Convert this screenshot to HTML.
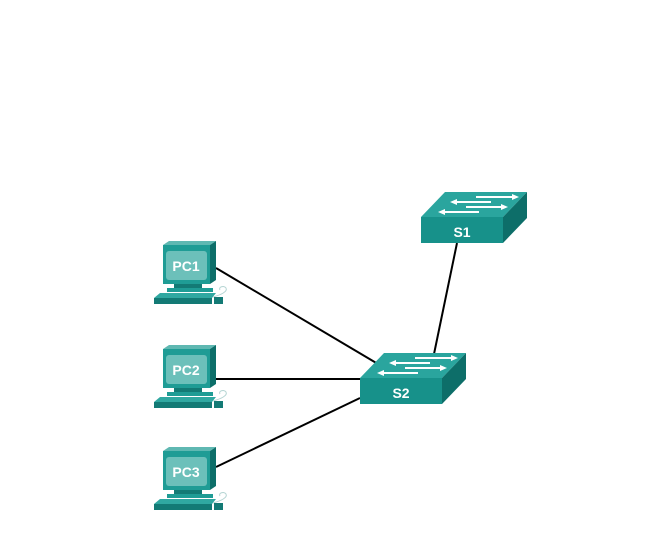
<!DOCTYPE html>
<html><head><style>
html,body{margin:0;padding:0;background:#fff;width:653px;height:556px;overflow:hidden}
text{font-family:"Liberation Sans",sans-serif;font-weight:bold;fill:#fff}
</style></head><body>
<svg width="653" height="556" viewBox="0 0 653 556" xmlns="http://www.w3.org/2000/svg">
<defs>
<g id="pc">
  <polygon points="13,5 19,1 66,1 60,5" fill="#5fb8b2"/>
  <rect x="13" y="5" width="47" height="39" fill="#1f9c95"/>
  <polygon points="60,5 66,1 66,40 60,44" fill="#0d6e69"/>
  <rect x="16" y="11" width="41" height="29" rx="3" fill="#6cc0ba"/>
  <rect x="24" y="44" width="28" height="4" fill="#137a75"/>
  <rect x="17" y="48" width="46" height="4" fill="#1f9c95"/>
  <polygon points="10,53 66,53 62,58 4,58" fill="#30a8a1"/>
  <rect x="4" y="58" width="58" height="6" fill="#137a75"/>
  <path d="M63,57 C70,55 78,52 76,48 C74,45 68,47 70,50" stroke="#b5d5d3" stroke-width="1" fill="none"/>
  <rect x="64" y="57" width="9" height="7" fill="#137a75"/>
</g>
<g id="sw">
  <polygon points="0,25 24,0 106,0 82,25" fill="#2aa59e"/>
  <rect x="0" y="25" width="82" height="26" fill="#17918a"/>
  <polygon points="82,25 106,0 106,26 82,51" fill="#0d6e69"/>
  <g stroke="#fff" stroke-width="2" fill="#fff">
    <line x1="55" y1="5" x2="92" y2="5"/><polygon points="98,5 91,2 91,8" stroke="none"/>
    <line x1="36" y1="10" x2="70" y2="10"/><polygon points="29,10 36,7 36,13" stroke="none"/>
    <line x1="45" y1="15" x2="80" y2="15"/><polygon points="87,15 80,12 80,18" stroke="none"/>
    <line x1="24" y1="20" x2="58" y2="20"/><polygon points="17,20 24,17 24,23" stroke="none"/>
  </g>
</g>
</defs>
<g stroke="#000" stroke-width="2">
  <line x1="216" y1="268" x2="378" y2="364"/>
  <line x1="216" y1="379" x2="360" y2="379"/>
  <line x1="216" y1="467" x2="360" y2="398"/>
  <line x1="457" y1="243" x2="434" y2="354"/>
</g>
<use href="#pc" x="150" y="240"/>
<use href="#pc" x="150" y="344"/>
<use href="#pc" x="150" y="446"/>
<text x="186" y="271" font-size="14" text-anchor="middle">PC1</text>
<text x="186" y="375" font-size="14" text-anchor="middle">PC2</text>
<text x="186" y="477" font-size="14" text-anchor="middle">PC3</text>
<use href="#sw" x="421" y="192"/>
<use href="#sw" x="360" y="353"/>
<text x="462" y="237" font-size="14" text-anchor="middle">S1</text>
<text x="401" y="398" font-size="14" text-anchor="middle">S2</text>
</svg>
</body></html>
